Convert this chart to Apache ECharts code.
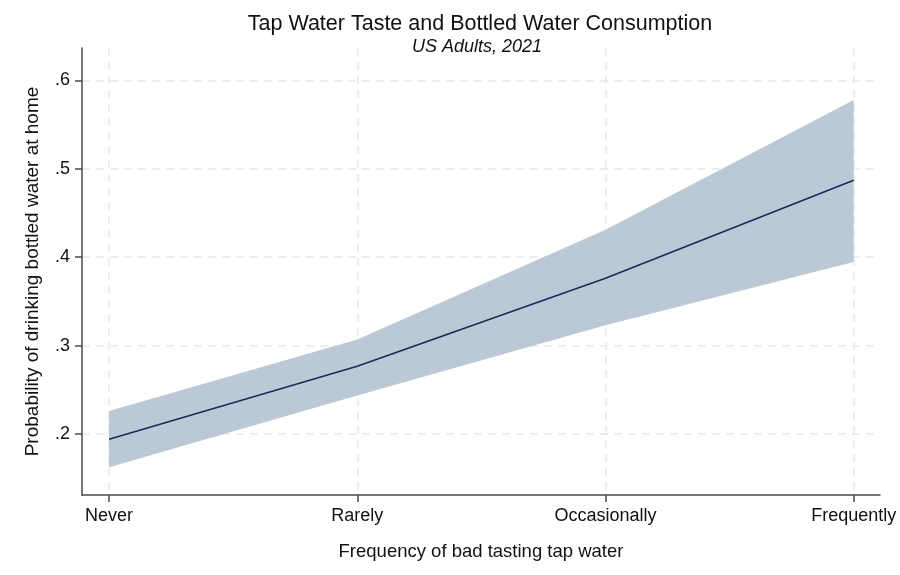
<!DOCTYPE html>
<html>
<head>
<meta charset="utf-8">
<script src="https://cdn.jsdelivr.net/npm/echarts@6/dist/echarts.min.js"></script>
<style>html,body{margin:0;padding:0;background:#fff}#c{width:900px;height:575px}</style>
</head>
<body>
<div id="c"></div>
<script>
var categories = ['Never', 'Rarely', 'Occasionally', 'Frequently'];
var meanValues = [0.194, 0.2766, 0.3762, 0.4869];
var upperValues = [0.226, 0.3068, 0.4309, 0.5777];
var lowerValues = [0.1623, 0.2434, 0.323, 0.3945];
var yTickValues = [0.2, 0.3, 0.4, 0.5, 0.6];
var xTickValues = [0, 1, 2, 3];

var chart = echarts.init(document.getElementById('c'));
var font = 'Liberation Sans, Arial, sans-serif';
var meanData = meanValues.map(function (v, i) { return [i, v]; });

chart.setOption({
  animation: false,
  backgroundColor: '#fff',
  title: [{
    text: 'Tap Water Taste and Bottled Water Consumption',
    left: 475, top: 8, textAlign: 'center',
    textStyle: { fontFamily: font, fontWeight: 'normal', fontSize: 21.5, color: '#111' }
  }, {
    text: 'US Adults, 2021',
    left: 472, top: 33, textAlign: 'center',
    textStyle: { fontFamily: font, fontWeight: 'normal', fontStyle: 'italic', fontSize: 18, color: '#111' }
  }],
  grid: { left: 82, right: 20, top: 48, bottom: 80, containLabel: false },
  xAxis: {
    type: 'value', min: -0.109, max: 3.106,
    name: 'Frequency of bad tasting tap water',
    nameLocation: 'middle', nameGap: 47, nameMoveOverlap: false,
    nameTextStyle: { fontFamily: font, fontSize: 18.5, color: '#111' },
    axisLine: { show: true, onZero: false, lineStyle: { color: '#4a4a4a', width: 1.5 } },
    axisTick: { show: true, customValues: xTickValues, length: 7, lineStyle: { color: '#4a4a4a', width: 1.5 } },
    axisLabel: {
      customValues: xTickValues, margin: 12,
      fontFamily: font, fontSize: 18, color: '#111',
      formatter: function (v) { return categories[Math.round(v)] || ''; }
    },
    splitLine: { show: true, lineStyle: { color: '#e9e9e9', width: 1.5, type: [8, 6] } }
  },
  yAxis: {
    type: 'value', min: 0.131, max: 0.6365,
    name: 'Probability of drinking bottled water at home',
    nameLocation: 'middle', nameGap: 40, nameMoveOverlap: false,
    nameTextStyle: { fontFamily: font, fontSize: 19, color: '#111' },
    axisLine: { show: true, onZero: false, lineStyle: { color: '#4a4a4a', width: 1.5 } },
    axisTick: { show: true, customValues: yTickValues, length: 7, lineStyle: { color: '#4a4a4a', width: 1.5 } },
    axisLabel: {
      customValues: yTickValues, margin: 12,
      fontFamily: font, fontSize: 18, color: '#111',
      formatter: function (v) { return String(Math.round(v * 10) / 10).replace(/^0/, ''); }
    },
    splitLine: { show: true, lineStyle: { color: '#e9e9e9', width: 1.5, type: [8, 6] } }
  },
  series: [{
    type: 'custom',
    coordinateSystem: 'cartesian2d',
    clip: true,
    data: [[0, lowerValues[0]]],
    encode: { x: 0, y: 1 },
    renderItem: function (params, api) {
      var pts = [];
      for (var i = 0; i < upperValues.length; i++) pts.push(api.coord([i, upperValues[i]]));
      for (var j = lowerValues.length - 1; j >= 0; j--) pts.push(api.coord([j, lowerValues[j]]));
      return { type: 'polygon', shape: { points: pts }, style: { fill: '#bac9d5', stroke: null } };
    },
    z: 2
  }, {
    type: 'line',
    data: meanData,
    symbol: 'none',
    lineStyle: { color: '#1b2a58', width: 1.6 },
    z: 3
  }]
});
</script>
</body>
</html>
